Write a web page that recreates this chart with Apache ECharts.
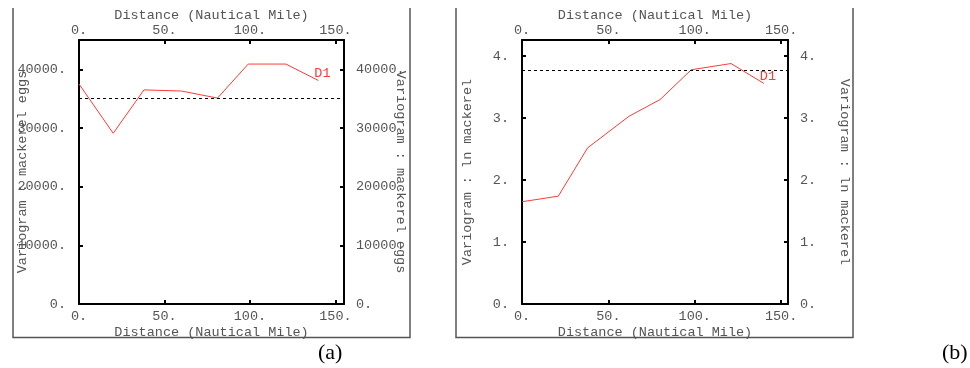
<!DOCTYPE html>
<html>
<head>
<meta charset="utf-8">
<script src="https://cdn.jsdelivr.net/npm/echarts@6/dist/echarts.min.js"></script>
<style>
  html, body { margin: 0; padding: 0; background: #fff; }
  #chart { width: 970px; height: 368px; }
</style>
</head>
<body>
<div id="chart"></div>
<script>
// lag distances (nautical miles) and variogram values
var lagA = [0, 20, 38, 60, 81, 99, 121, 140];
var eggsA = [37500, 29100, 36500, 36300, 35100, 40900, 40900, 38100];
var sillA = 35000;

var lagB = [0, 21, 38, 62, 80, 98, 121, 140];
var lnB = [1.65, 1.74, 2.52, 3.03, 3.30, 3.78, 3.88, 3.56];
var sillB = 3.77;

var xTitle = 'Distance (Nautical Mile)';
var yTitleA = 'Variogram : mackerel eggs';
var yTitleB = 'Variogram : ln mackerel';
var panelLabels = ['(a)', '(b)'];

var font = 'Liberation Mono';
var fs = 13.5;
var txt = '#555';

function pairs(xs, ys) {
    return xs.map(function (x, i) { return [x, ys[i]]; });
}

function dotFmt(step) {
    return function (v) {
        if (Math.abs(v / step - Math.round(v / step)) > 1e-6) return '';
        return v + '.';
    };
}

function xAx(grid, pos, max) {
    return {
        type: 'value', gridIndex: grid, position: pos, min: 0, max: max, interval: 50,
        name: xTitle, nameLocation: 'middle', nameGap: pos == 'top' ? 18 : 21,
        nameMoveOverlap: false,
        nameTextStyle: { fontFamily: font, fontSize: fs, color: txt },
        axisLine: { show: true, onZero: false, lineStyle: { color: '#000', width: 2 } },
        axisTick: { show: true, inside: true, length: 4, lineStyle: { color: '#000', width: 2 } },
        axisLabel: { fontFamily: font, fontSize: fs, color: txt, margin: pos == 'top' ? 3 : 5,
            showMaxLabel: false, formatter: dotFmt(50) },
        splitLine: { show: false }
    };
}

function yAx(grid, pos, max, step, name, gap) {
    return {
        type: 'value', gridIndex: grid, position: pos, min: 0, max: max, interval: step,
        name: name, nameLocation: 'middle', nameGap: gap, nameRotate: pos == 'left' ? 90 : -90,
        nameMoveOverlap: false,
        nameTextStyle: { fontFamily: font, fontSize: fs, color: txt },
        axisLine: { show: true, onZero: false, lineStyle: { color: '#000', width: 2 } },
        axisTick: { show: true, inside: true, length: 4, lineStyle: { color: '#000', width: 2 } },
        axisLabel: { fontFamily: font, fontSize: fs, color: txt, margin: pos == 'left' ? 13 : 12,
            showMaxLabel: false, formatter: dotFmt(step) },
        splitLine: { show: false }
    };
}

function variogram(xi, yi, data, sill) {
    return {
        type: 'line', xAxisIndex: xi, yAxisIndex: yi, data: data,
        showSymbol: false, symbol: 'none', animation: false,
        lineStyle: { color: '#ff3a3a', width: 1 },
        endLabel: { show: true, formatter: 'D1', color: '#ff3a3a', fontFamily: font,
            fontSize: fs, offset: [-12, -7] },
        markLine: {
            silent: true, symbol: 'none', animation: false,
            label: { show: false },
            lineStyle: { color: '#000', type: [3, 3], width: 1 },
            data: [{ yAxis: sill }]
        }
    };
}

function frame(x0, x1) {
    return {
        type: 'polyline',
        shape: { points: [[x0, 8], [x0, 337.5], [x1, 337.5], [x1, 8]] },
        style: { stroke: '#555', lineWidth: 1.5, fill: null }
    };
}

var chart = echarts.init(document.getElementById('chart'));
var option = {
    backgroundColor: '#fff',
    animation: false,
    grid: [
        { left: 79, top: 40, width: 265, height: 264 },
        { left: 522, top: 40, width: 266, height: 264 }
    ],
    xAxis: [
        xAx(0, 'bottom', 155), xAx(0, 'top', 155),
        xAx(1, 'bottom', 154), xAx(1, 'top', 154)
    ],
    yAxis: [
        yAx(0, 'left', 45000, 10000, yTitleA, 50), yAx(0, 'right', 45000, 10000, yTitleA, 50),
        yAx(1, 'left', 4.26, 1, yTitleB, 48), yAx(1, 'right', 4.26, 1, yTitleB, 50)
    ],
    series: [
        variogram(0, 0, pairs(lagA, eggsA), sillA),
        variogram(2, 2, pairs(lagB, lnB), sillB)
    ],
    graphic: [
        frame(13, 410),
        frame(456, 853),
        { type: 'text', left: 318, top: 342,
          style: { text: panelLabels[0], font: '22px "Liberation Serif"', fill: '#000' } },
        { type: 'text', left: 942, top: 342,
          style: { text: panelLabels[1], font: '22px "Liberation Serif"', fill: '#000' } }
    ]
};
chart.setOption(option);
</script>
</body>
</html>
